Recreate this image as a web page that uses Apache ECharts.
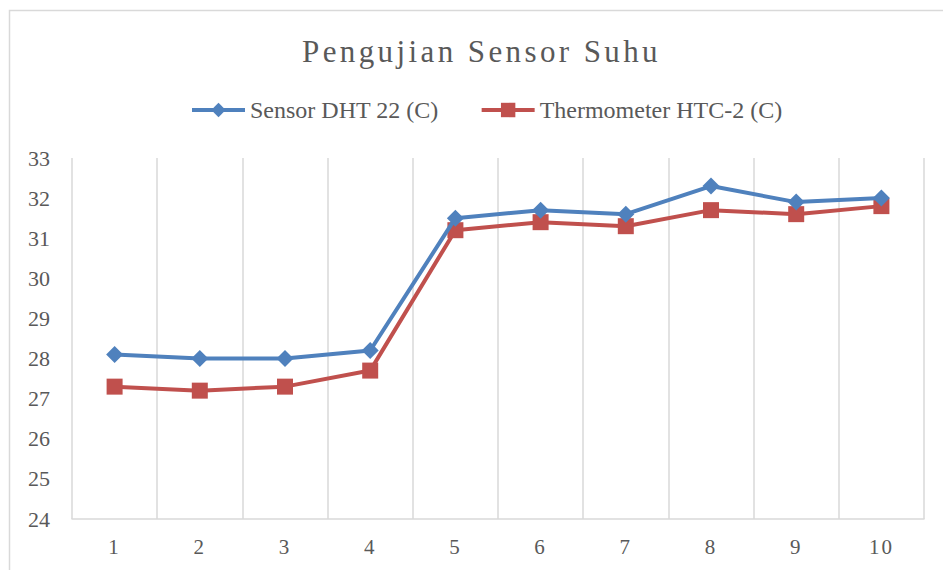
<!DOCTYPE html>
<html>
<head>
<meta charset="utf-8">
<script src="https://cdn.jsdelivr.net/npm/echarts@6/dist/echarts.min.js"></script>
<style>
  html, body { margin: 0; padding: 0; background: #fff; }
  #chart { width: 943px; height: 570px; }
  /* spaced title and x labels, like the Excel original */
  #chart text[style*="31px"] { letter-spacing: 3.4px; }
  #chart text[style*="21px"] { letter-spacing: 2px; }
</style>
</head>
<body>
<div id="chart"></div>
<script>
const titleText = 'Pengujian Sensor Suhu'
const categories = ['1', '2', '3', '4', '5', '6', '7', '8', '9', '10']
const dhtName = 'Sensor DHT 22 (C)'
const dhtValues = [28.1, 28.0, 28.0, 28.2, 31.5, 31.7, 31.6, 32.3, 31.9, 32.0]
const htcName = 'Thermometer HTC-2 (C)'
const htcValues = [27.3, 27.2, 27.3, 27.7, 31.2, 31.4, 31.3, 31.7, 31.6, 31.8]
const yMin = 24
const yMax = 33

const font = '"Liberation Serif", "Times New Roman", serif'
const textColor = '#595959'

const chart = echarts.init(document.getElementById('chart'), null, { renderer: 'svg' })
chart.setOption({
  animation: false,
  backgroundColor: '#fff',
  title: {
    text: titleText,
    left: 302,
    top: 36,
    padding: 0,
    textStyle: {
      fontFamily: font,
      fontSize: 31,
      fontWeight: 'normal',
      color: textColor
    }
  },
  legend: {
    left: 190,
    top: 98,
    padding: 0,
    itemWidth: 53,
    itemHeight: 18,
    itemGap: 41,
    lineStyle: { width: 4 },
    textStyle: {
      fontFamily: font,
      fontSize: 24,
      color: textColor
    },
    data: [dhtName, htcName]
  },
  grid: {
    left: 72,
    right: 19,
    top: 158,
    bottom: 51,
    containLabel: false
  },
  graphic: [
    {
      type: 'rect',
      silent: true,
      shape: { x: 9.5, y: 10.5, width: 1000, height: 600 },
      style: { fill: 'none', stroke: '#d9d9d9', lineWidth: 1.5 }
    }
  ],
  xAxis: {
    type: 'category',
    data: categories,
    boundaryGap: true,
    axisLine: { lineStyle: { color: '#d9d9d9', width: 1.5 } },
    axisTick: { show: false },
    axisLabel: {
      margin: 17,
      fontFamily: font,
      fontSize: 21,
      color: textColor
    },
    splitLine: {
      show: true,
      interval: 0,
      lineStyle: { color: '#d9d9d9', width: 1.5 }
    }
  },
  yAxis: {
    type: 'value',
    min: yMin,
    max: yMax,
    interval: 1,
    axisLine: { show: false },
    axisTick: { show: false },
    splitLine: { show: false },
    axisLabel: {
      margin: 22,
      fontFamily: font,
      fontSize: 22,
      color: textColor
    }
  },
  series: [
    {
      name: dhtName,
      type: 'line',
      data: dhtValues,
      color: '#4f81bd',
      symbol: 'diamond',
      symbolSize: 17,
      lineStyle: { width: 4, color: '#4f81bd' },
      itemStyle: { color: '#4f81bd' },
      z: 3
    },
    {
      name: htcName,
      type: 'line',
      data: htcValues,
      color: '#c0504d',
      symbol: 'rect',
      symbolSize: 16,
      lineStyle: { width: 4, color: '#c0504d' },
      itemStyle: { color: '#c0504d' },
      z: 2
    }
  ]
})
</script>
</body>
</html>
